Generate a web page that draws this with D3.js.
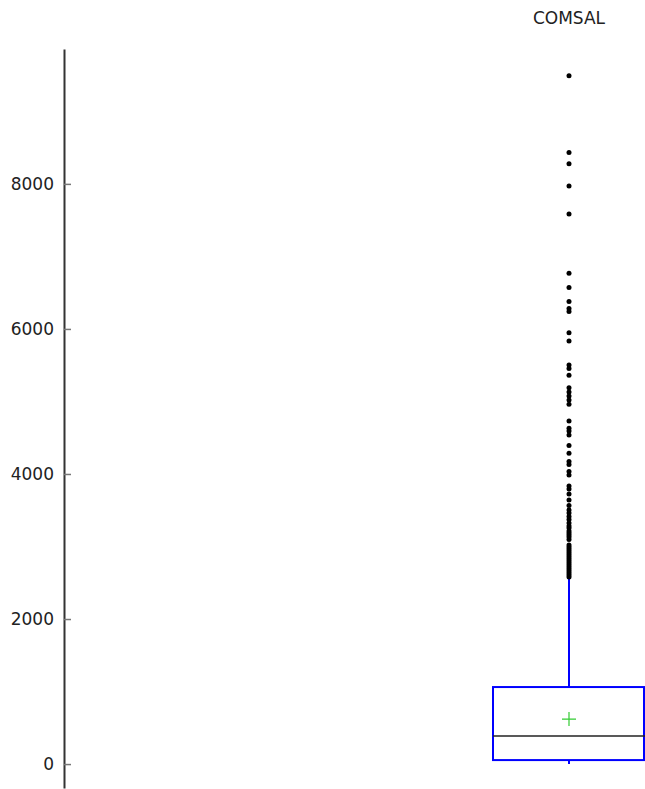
<!DOCTYPE html>
<html>
<head>
<meta charset="utf-8">
<script src="https://cdn.jsdelivr.net/npm/d3@7"></script>
<style>
  body { margin: 0; background: #fff; }
  text { font-family: "DejaVu Sans", Verdana, sans-serif; }
</style>
</head>
<body>
<svg></svg>
<script>
let categories = ["COMSAL"]
// box stats
let q1 = [55]
let median = [386]
let q3 = [1062]
let mean = [620]
let whiskerLow = [0]
let whiskerHigh = [2570]
let outliers = [
  9490, 8432, 8276, 7972, 7586, 6768, 6572, 6377, 6283, 6241,
  5949, 5834, 5503, 5455, 5361, 5190, 5131, 5076, 5021, 4961,
  4731, 4630, 4593, 4538, 4393, 4286, 4172, 4131, 4034, 3986,
  3834, 3793, 3724, 3641, 3566, 3503, 3462, 3414, 3372, 3324,
  3283, 3255, 3214, 3186, 3159, 3131, 3097, 3021, 2993, 2966,
  2938, 2910, 2883, 2855, 2828, 2800, 2772, 2745, 2717, 2690,
  2662, 2634, 2607, 2579
]
let yTicks = [0, 2000, 4000, 6000, 8000]

let width = 645
let height = 789

let svg = d3.select('svg').attr("width", width).attr("height", height)

let yScale = d3.scaleLinear().domain([-330, 9860]).range([788, 49])
let xScale = d3.scaleBand().domain(categories).range([493, 645])

let yAxis = d3.axisLeft(yScale).tickValues(yTicks).tickFormat(d3.format("d"))
  .tickSizeInner(-7).tickSizeOuter(0).tickPadding(10)

let gy = svg.append("g").attr("transform", "translate(64,0)").call(yAxis)
gy.select(".domain").attr("stroke", "#333").attr("stroke-width", 2)
gy.selectAll(".tick line").attr("stroke", "#777").attr("stroke-width", 1.5)
gy.selectAll(".tick text").attr("font-size", 17).attr("fill", "#222")
  .attr("font-family", "'DejaVu Sans', Verdana, sans-serif")

categories.forEach((cat, i) => {
  let cx = xScale(cat) + xScale.bandwidth() / 2
  let g = svg.append("g")

  // title
  g.append("text").attr("x", cx).attr("y", 24).attr("text-anchor", "middle")
    .attr("font-size", 17).attr("fill", "#222").text(cat)

  // whiskers
  g.append("line").attr("x1", cx).attr("x2", cx)
    .attr("y1", yScale(q3[i])).attr("y2", yScale(whiskerHigh[i]))
    .attr("stroke", "#0000ff").attr("stroke-width", 2)
  g.append("line").attr("x1", cx).attr("x2", cx)
    .attr("y1", yScale(q1[i])).attr("y2", yScale(whiskerLow[i]))
    .attr("stroke", "#0000ff").attr("stroke-width", 2)

  // box
  g.append("rect").attr("x", xScale(cat)).attr("width", xScale.bandwidth() - 1)
    .attr("y", yScale(q3[i])).attr("height", yScale(q1[i]) - yScale(q3[i]))
    .attr("fill", "none").attr("stroke", "#0000ff").attr("stroke-width", 2)

  // median
  g.append("line").attr("x1", xScale(cat)).attr("x2", xScale(cat) + xScale.bandwidth())
    .attr("y1", yScale(median[i])).attr("y2", yScale(median[i]))
    .attr("stroke", "#222").attr("stroke-width", 1.5)

  // mean marker
  let my = yScale(mean[i])
  g.append("path").attr("d", `M${cx - 7},${my}H${cx + 7}M${cx},${my - 7}V${my + 7}`)
    .attr("stroke", "#33cc33").attr("stroke-width", 1.2).attr("fill", "none")

  // outliers
  g.selectAll("circle").data(outliers).enter().append("circle")
    .attr("cx", cx).attr("cy", d => yScale(d)).attr("r", 2.5).attr("fill", "#000")
})
</script>
</body>
</html>
